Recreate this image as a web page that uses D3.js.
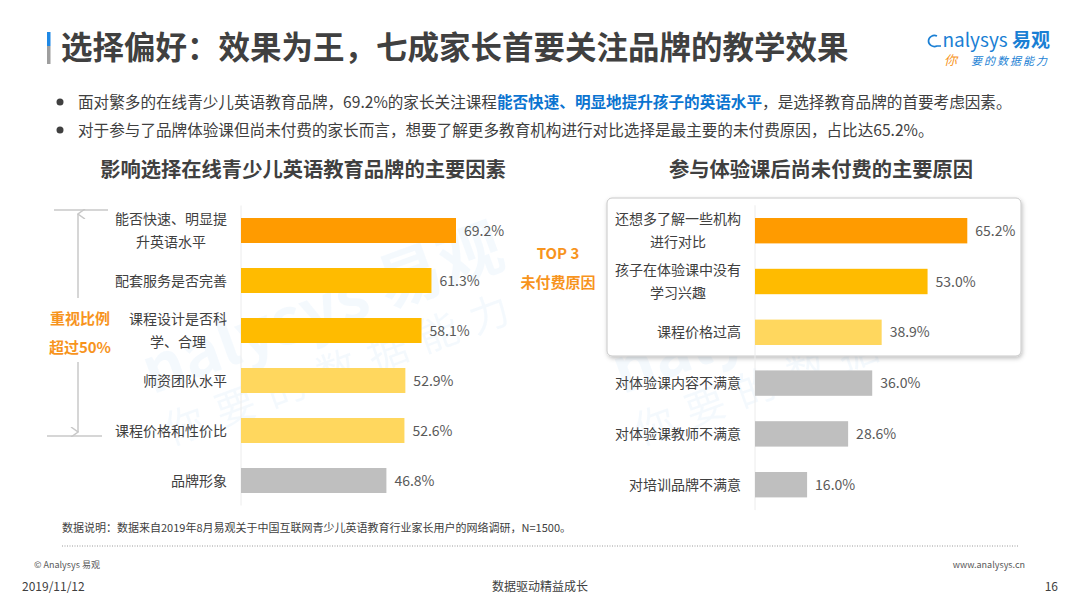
<!DOCTYPE html>
<html>
<head>
<meta charset="utf-8">
<script src="https://cdn.jsdelivr.net/npm/d3@7"></script>
<style>
  html, body { margin: 0; padding: 0; background: #fff; }
  svg { display: block; font-family: "Noto Sans CJK SC", "Noto Sans", sans-serif; }
</style>
</head>
<body>
<div id="chart"></div>
<script>
// data
const leftCategories = ["能否快速、明显提\n升英语水平", "配套服务是否完善", "课程设计是否科\n学、合理", "师资团队水平", "课程价格和性价比", "品牌形象"];
const leftValues = [69.2, 61.3, 58.1, 52.9, 52.6, 46.8];
const rightCategories = ["还想多了解一些机构\n进行对比", "孩子在体验课中没有\n学习兴趣", "课程价格过高", "对体验课内容不满意", "对体验课教师不满意", "对培训品牌不满意"];
const rightValues = [65.2, 53.0, 38.9, 36.0, 28.6, 16.0];

const leftColors = ["#ff9b00", "#ffbb00", "#ffbb00", "#ffd75e", "#ffd75e", "#bfbfbf"];
const rightColors = ["#ff9b00", "#ffbb00", "#ffd75e", "#bfbfbf", "#bfbfbf", "#bfbfbf"];

const width = 1080, height = 608;
const textColor = "#404040";
const orange = "#f7941d";

const svg = d3.select("#chart").append("svg")
  .attr("width", width)
  .attr("height", height);

const defs = svg.append("defs");
const shadow = defs.append("filter").attr("id", "shadow")
  .attr("x", "-5%").attr("y", "-10%").attr("width", "110%").attr("height", "125%");
shadow.append("feDropShadow")
  .attr("dx", 1).attr("dy", 2).attr("stdDeviation", 2)
  .attr("flood-color", "#000").attr("flood-opacity", 0.25);

const arrow = defs.append("marker").attr("id", "arrow")
  .attr("viewBox", "0 0 10 10").attr("refX", 5).attr("refY", 1)
  .attr("markerWidth", 10).attr("markerHeight", 10)
  .attr("orient", "auto-start-reverse").attr("markerUnits", "userSpaceOnUse");
arrow.append("path").attr("d", "M0,8 L5,1 L10,8")
  .attr("fill", "none").attr("stroke", "#c8c8c8").attr("stroke-width", 1.5);

/* WATERMARKS */
function watermark(x, y) {
  const g = svg.append("g").attr("transform", `translate(${x},${y}) rotate(-20)`)
    .attr("opacity", 0.045);
  g.append("text").attr("font-size", 64).attr("font-weight", 700)
    .attr("fill", "#1e88e5").attr("text-anchor", "middle").text("nalysys 易观");
  g.append("text").attr("y", 54).attr("font-size", 40)
    .attr("fill", "#1e88e5").attr("text-anchor", "middle").attr("letter-spacing", 14)
    .text("你要的数据能力");
}
watermark(330, 330);
watermark(800, 330);

/* HEADER */
svg.append("rect").attr("x", 47).attr("y", 32).attr("width", 3.5).attr("height", 14).attr("fill", "#1e88e5");
svg.append("rect").attr("x", 47).attr("y", 46).attr("width", 3.5).attr("height", 18).attr("fill", "#9e9e9e");
svg.append("text")
  .attr("x", 61).attr("y", 59)
  .attr("font-size", 31.5).attr("font-weight", 700).attr("fill", textColor)
  .text("选择偏好：效果为王，七成家长首要关注品牌的教学效果");

// logo
const logo = svg.append("g");
logo.append("text").attr("x", 1050).attr("y", 47).attr("text-anchor", "end")
  .attr("font-size", 19).attr("fill", "#1a7fd4")
  .text("nalysys")
  .append("tspan").attr("font-weight", 700).text(" 易观");
logo.append("path").attr("d", "M937,36 A6,5.5 0 1,0 937,46 L941,46")
  .attr("fill", "none").attr("stroke", "#1a7fd4").attr("stroke-width", 1.7);
logo.append("text").attr("x", 1049).attr("y", 65).attr("text-anchor", "end")
  .attr("font-size", 11).attr("fill", "#1a7fd4").attr("font-style", "italic").attr("letter-spacing", 2)
  .text("要的数据能力");
logo.append("text").attr("x", 944).attr("y", 65)
  .attr("font-size", 13).attr("fill", "#f7941d").attr("font-style", "italic")
  .text("你");

/* BULLETS */
const bullets = [
  [["面对繁多的在线青少儿英语教育品牌，69.2%的家长关注课程", false], ["能否快速、明显地提升孩子的英语水平", true], ["，是选择教育品牌的首要考虑因素。", false]],
  [["对于参与了品牌体验课但尚未付费的家长而言，想要了解更多教育机构进行对比选择是最主要的未付费原因，占比达65.2%。", false]]
];
bullets.forEach((parts, i) => {
  const y = 102 + i * 28;
  svg.append("circle").attr("cx", 60).attr("cy", y).attr("r", 3.5).attr("fill", "#404040");
  const t = svg.append("text").attr("x", 78).attr("y", y + 5.5)
    .attr("font-size", 15.6).attr("fill", textColor);
  parts.forEach(([s, hi]) => {
    t.append("tspan").text(s)
      .attr("fill", hi ? "#0b74d0" : textColor)
      .attr("font-weight", hi ? 700 : 400);
  });
});

/* CHARTS */
function drawBars(opts) {
  const { categories, values, colors, x0, top, step, title, titleX } = opts;
  const g = svg.append("g");

  const x = d3.scaleLinear().domain([0, 100]).range([x0, x0 + opts.pxPer100]);
  const y = d3.scaleBand().domain(categories)
    .range([top, top + step * categories.length])
    .paddingInner(0.5).paddingOuter(0.25);

  g.append("text").attr("x", titleX).attr("y", 177)
    .attr("text-anchor", "middle").attr("font-size", 20.3).attr("font-weight", 700)
    .attr("fill", textColor).text(title);

  // axis line
  g.append("line").attr("x1", x0).attr("x2", x0)
    .attr("y1", top).attr("y2", top + step * categories.length)
    .attr("stroke", "#ececec").attr("stroke-width", 1);

  g.selectAll("rect.bar").data(values).enter()
    .append("rect").attr("class", "bar")
    .attr("x", x(0))
    .attr("y", (d, i) => y(categories[i]))
    .attr("width", (d) => x(d) - x(0))
    .attr("height", y.bandwidth())
    .attr("fill", (d, i) => colors[i]);

  g.selectAll("text.val").data(values).enter()
    .append("text").attr("class", "val")
    .attr("x", (d) => x(d) + 8)
    .attr("y", (d, i) => y(categories[i]) + y.bandwidth() / 2)
    .attr("dy", "0.36em")
    .attr("font-size", 14).attr("fill", "#595959")
    .text((d) => d.toFixed(1) + "%");

  // category labels: lines centred, block right-aligned
  categories.forEach((c, i) => {
    const lines = c.split("\n");
    const cy = y(c) + y.bandwidth() / 2;
    const lab = g.append("text").attr("font-size", 14).attr("fill", textColor)
      .attr("text-anchor", "middle");
    lines.forEach((l, j) => {
      lab.append("tspan").attr("y", cy + (j - (lines.length - 1) / 2) * 23)
        .attr("dy", "0.36em").text(l);
    });
    let w = 0;
    lab.selectAll("tspan").each(function () { w = Math.max(w, this.getComputedTextLength()); });
    lab.selectAll("tspan").attr("x", x0 - 14 - w / 2);
  });
  return y;
}

// right box (behind bars)
svg.append("rect").attr("x", 607).attr("y", 198).attr("width", 414).attr("height", 158)
  .attr("rx", 5).attr("fill", "#fff").attr("stroke", "#c8c8c8").attr("stroke-width", 1)
  .attr("filter", "url(#shadow)");

drawBars({
  categories: leftCategories, values: leftValues, colors: leftColors,
  x0: 241, pxPer100: 310.7, top: 205.5, step: 50,
  title: "影响选择在线青少儿英语教育品牌的主要因素", titleX: 303
});
drawBars({
  categories: rightCategories, values: rightValues, colors: rightColors,
  x0: 755, pxPer100: 325.6, top: 205.3, step: 50.8,
  title: "参与体验课后尚未付费的主要原因", titleX: 821
});

/* LEFT ANNOTATION */
const ann = svg.append("g");
ann.append("line").attr("x1", 54).attr("x2", 108).attr("y1", 210).attr("y2", 210)
  .attr("stroke", "#c8c8c8").attr("stroke-width", 1.5);
ann.append("line").attr("x1", 47).attr("x2", 102).attr("y1", 436).attr("y2", 436)
  .attr("stroke", "#c8c8c8").attr("stroke-width", 1.5);
ann.append("line").attr("x1", 78).attr("x2", 78).attr("y1", 214).attr("y2", 298)
  .attr("stroke", "#c8c8c8").attr("stroke-width", 1.5).attr("marker-start", "url(#arrow)");
ann.append("line").attr("x1", 78).attr("x2", 78).attr("y1", 362).attr("y2", 432)
  .attr("stroke", "#c8c8c8").attr("stroke-width", 1.5).attr("marker-end", "url(#arrow)");
[["重视比例", 324], ["超过50%", 353]].forEach(([s, yy]) => {
  ann.append("text").attr("x", 80).attr("y", yy).attr("text-anchor", "middle")
    .attr("font-size", 15).attr("font-weight", 700).attr("fill", orange).text(s);
});
[["TOP 3", 259], ["未付费原因", 288]].forEach(([s, yy]) => {
  svg.append("text").attr("x", 558).attr("y", yy).attr("text-anchor", "middle")
    .attr("font-size", 15).attr("font-weight", 700).attr("fill", orange).text(s);
});

/* FOOTER */
svg.append("text").attr("x", 62).attr("y", 532).attr("font-size", 11).attr("fill", textColor)
  .text("数据说明：数据来自2019年8月易观关于中国互联网青少儿英语教育行业家长用户的网络调研，N=1500。");
svg.append("line").attr("x1", 62).attr("x2", 1018).attr("y1", 546).attr("y2", 546)
  .attr("stroke", "#9a9a9a").attr("stroke-width", 1).attr("stroke-dasharray", "1,1.5");
svg.append("text").attr("x", 34).attr("y", 568).attr("font-size", 9).attr("fill", "#595959")
  .text("© Analysys 易观");
svg.append("text").attr("x", 1025).attr("y", 568).attr("text-anchor", "end")
  .attr("font-size", 9).attr("fill", "#595959").text("www.analysys.cn");
svg.append("text").attr("x", 22).attr("y", 591).attr("font-size", 12).attr("fill", textColor)
  .text("2019/11/12");
svg.append("text").attr("x", 540).attr("y", 591).attr("text-anchor", "middle")
  .attr("font-size", 12).attr("fill", textColor).text("数据驱动精益成长");
svg.append("text").attr("x", 1058).attr("y", 591).attr("text-anchor", "end")
  .attr("font-size", 12).attr("fill", textColor).text("16");
</script>
</body>
</html>
